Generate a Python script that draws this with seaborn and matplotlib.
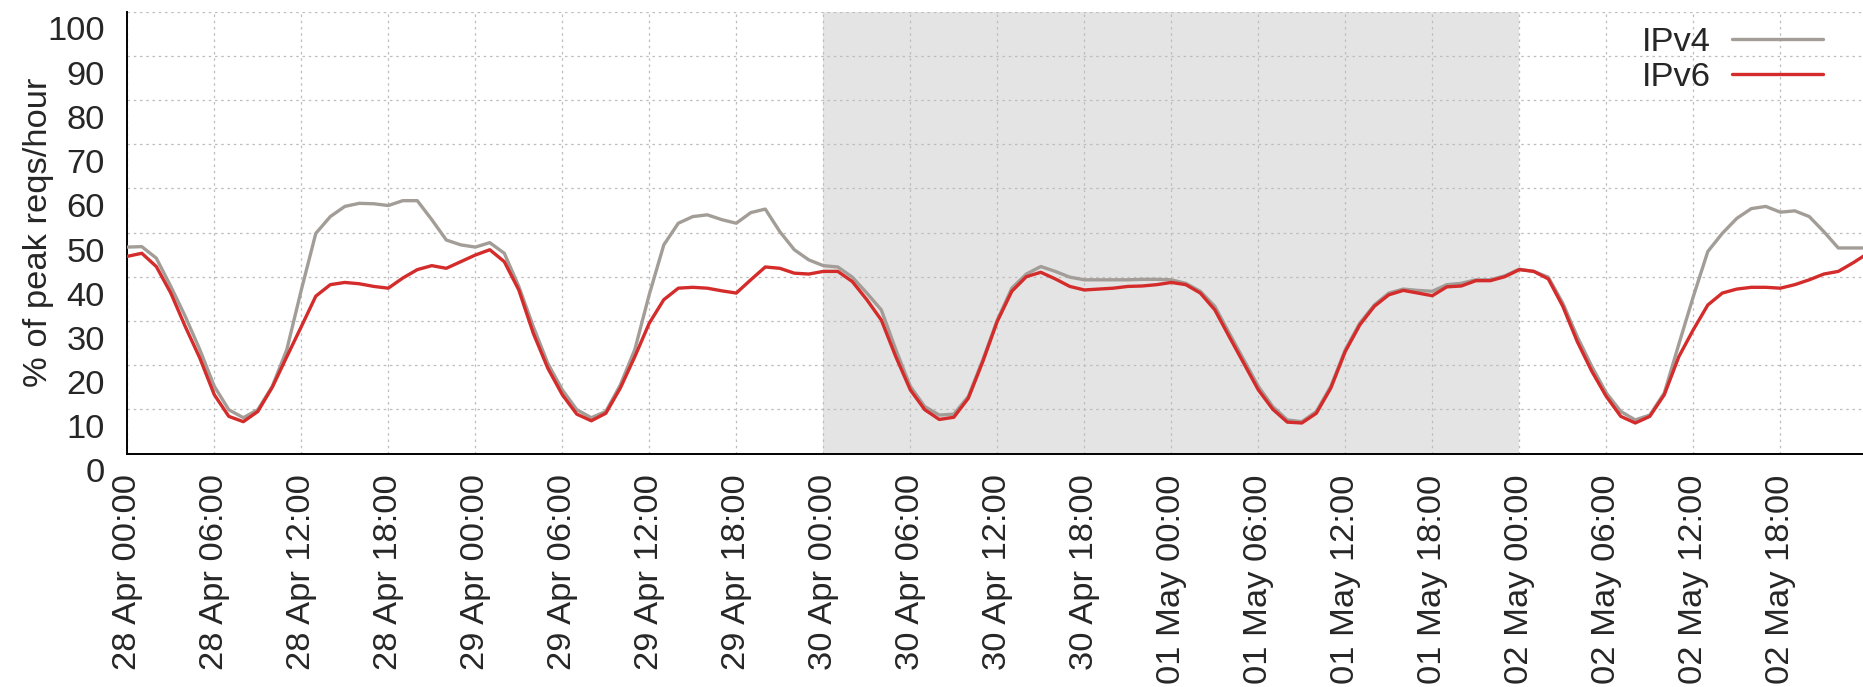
import numpy as np
import pandas as pd
import matplotlib
matplotlib.use("Agg")
import matplotlib.pyplot as plt
import matplotlib.transforms as mtransforms
from matplotlib.lines import Line2D
import seaborn as sns

# ---- data (hourly, 28 Apr 00:00 .. 03 May 00:00) ----
ipv4_apr28 = [46.7, 46.8, 44.2, 37.8, 31.0, 23.5, 15.2, 9.9, 8.1, 9.9, 15.2, 23.5,
              37.0, 49.8, 53.6, 55.9, 56.6, 56.5, 56.1, 57.2, 57.2, 52.9, 48.3, 47.2]
ipv4_apr29 = [46.7, 47.7, 45.3, 37.8, 28.7, 20.4, 14.4, 9.9, 8.1, 9.5, 15.5, 23.5,
              36.0, 47.2, 52.1, 53.6, 54.0, 52.9, 52.1, 54.5, 55.3, 50.2, 46.1, 43.8]
ipv4_apr30 = [42.5, 42.2, 39.9, 36.3, 32.5, 23.5, 15.2, 10.6, 8.7, 8.9, 12.9, 21.2,
              30.2, 37.4, 40.6, 42.3, 41.2, 39.9, 39.3, 39.3, 39.3, 39.3, 39.4, 39.4]
ipv4_may01 = [39.3, 38.5, 36.7, 33.3, 27.2, 21.2, 15.2, 10.6, 7.6, 7.2, 9.5, 15.2,
              23.5, 29.5, 33.6, 36.3, 37.2, 36.9, 36.7, 38.2, 38.5, 39.3, 39.3, 40.2]
ipv4_may02 = [41.7, 41.2, 39.9, 34.0, 26.4, 19.7, 13.7, 9.5, 7.6, 8.7, 13.7, 24.7,
              35.5, 45.7, 49.8, 53.2, 55.4, 55.9, 54.6, 54.9, 53.6, 50.2, 46.5, 46.5,
              46.5]

ipv6_apr28 = [44.6, 45.3, 42.3, 36.3, 28.7, 21.6, 13.3, 8.4, 7.2, 9.5, 15.0, 21.9,
              28.7, 35.6, 38.2, 38.7, 38.4, 37.8, 37.4, 39.7, 41.6, 42.5, 41.9, 43.4]
ipv6_apr29 = [44.9, 46.1, 43.4, 37.0, 27.2, 19.3, 13.3, 8.9, 7.4, 9.1, 14.8, 21.9,
              29.5, 34.8, 37.4, 37.6, 37.4, 36.8, 36.3, 39.3, 42.2, 41.9, 40.8, 40.6]
ipv6_apr30 = [41.2, 41.2, 38.9, 34.8, 30.2, 21.9, 14.4, 9.9, 7.7, 8.2, 12.5, 20.8,
              29.9, 36.7, 40.0, 41.0, 39.5, 37.8, 37.0, 37.2, 37.4, 37.8, 37.9, 38.2]
ipv6_may01 = [38.7, 38.2, 36.3, 32.5, 26.4, 20.4, 14.4, 10.0, 7.1, 6.9, 9.1, 14.8,
              23.1, 29.1, 33.3, 35.9, 36.9, 36.3, 35.7, 37.7, 37.9, 39.1, 39.1, 40.0]
ipv6_may02 = [41.6, 41.2, 39.5, 33.3, 25.3, 18.6, 12.9, 8.4, 6.9, 8.4, 13.3, 21.9,
              28.0, 33.6, 36.3, 37.2, 37.6, 37.6, 37.4, 38.2, 39.3, 40.6, 41.2, 43.1,
              45.2]

ipv4 = ipv4_apr28 + ipv4_apr29 + ipv4_apr30 + ipv4_may01 + ipv4_may02
ipv6 = ipv6_apr28 + ipv6_apr29 + ipv6_apr30 + ipv6_may01 + ipv6_may02
hours = list(range(len(ipv4)))

tick_hours = [0, 6, 12, 18, 24, 30, 36, 42, 48, 54, 60, 66, 72, 78, 84, 90, 96, 102, 108, 114]
tick_labels = ["28 Apr 00:00", "28 Apr 06:00", "28 Apr 12:00", "28 Apr 18:00",
               "29 Apr 00:00", "29 Apr 06:00", "29 Apr 12:00", "29 Apr 18:00",
               "30 Apr 00:00", "30 Apr 06:00", "30 Apr 12:00", "30 Apr 18:00",
               "01 May 00:00", "01 May 06:00", "01 May 12:00", "01 May 18:00",
               "02 May 00:00", "02 May 06:00", "02 May 12:00", "02 May 18:00"]
y_ticks = [0, 10, 20, 30, 40, 50, 60, 70, 80, 90, 100]
weekend = (48, 96)
series_names = ["IPv4", "IPv6"]
colors = {"IPv4": "#a39d98", "IPv6": "#d42b2b"}

df = pd.DataFrame({
    "hour": hours * 2,
    "value": ipv4 + ipv6,
    "proto": ["IPv4"] * len(ipv4) + ["IPv6"] * len(ipv6),
})

# ---- style ----
sns.set_style("white")
plt.rcParams["font.family"] = ["Liberation Sans", "DejaVu Sans"]
FS = 24.8

W, H = 1863, 687
fig = plt.figure(figsize=(W / 100, H / 100), dpi=100)
left_px, bottom_px, top_px = 127.3, 453.5, 11.5
ax = fig.add_axes([left_px / W, 1 - bottom_px / H, 1 - left_px / W, (bottom_px - top_px) / H])

ax.axvspan(weekend[0], weekend[1], color="#e4e4e4", lw=0, zorder=0)

sns.lineplot(data=df, x="hour", y="value", hue="proto", hue_order=series_names,
             palette=colors, linewidth=2.4, legend=False, ax=ax, zorder=3)

ax.set_xlim(0, (W - left_px) / 14.5)
ax.set_ylim(0, 100)
ax.set_xticks(tick_hours)
ax.set_xticklabels(tick_labels, rotation=90, fontsize=FS)
ax.set_yticks(y_ticks)
ax.set_yticklabels([str(v) for v in y_ticks], fontsize=FS)
ax.set_xlabel("")
ax.set_ylabel("% of peak reqs/hour", fontsize=FS)
ax.yaxis.set_label_coords((54 - left_px) / (W - left_px), 0.5)

ax.tick_params(axis="both", direction="in", length=8.6, width=1.4, color="black")
ax.tick_params(axis="x", pad=15, top=False)
ax.tick_params(axis="y", pad=16, right=False)

# y tick labels sit a bit below their ticks in the reference
offset = mtransforms.ScaledTranslation(0, -0.17, fig.dpi_scale_trans)
for lab in ax.get_yticklabels():
    lab.set_transform(lab.get_transform() + offset)

ax.set_axisbelow(True)
ax.grid(True, color="#bdbdbd", linestyle=(0, (2, 3)), linewidth=0.9)

for s in ["top", "right"]:
    ax.spines[s].set_visible(False)
for s in ["left", "bottom"]:
    ax.spines[s].set_color("black")
    ax.spines[s].set_linewidth(1.4)

handles = [Line2D([], [], color=colors[n], linewidth=2.4) for n in series_names]
ax.legend(handles, series_names, loc="upper right",
          bbox_to_anchor=((1823 - left_px) / (W - left_px), (bottom_px - 27) / (bottom_px - top_px)),
          frameon=False, markerfirst=False, handlelength=2.65, handletextpad=0.6,
          borderpad=0, borderaxespad=0, labelspacing=0.1, fontsize=FS)

fig.savefig("out.png", dpi=100)
